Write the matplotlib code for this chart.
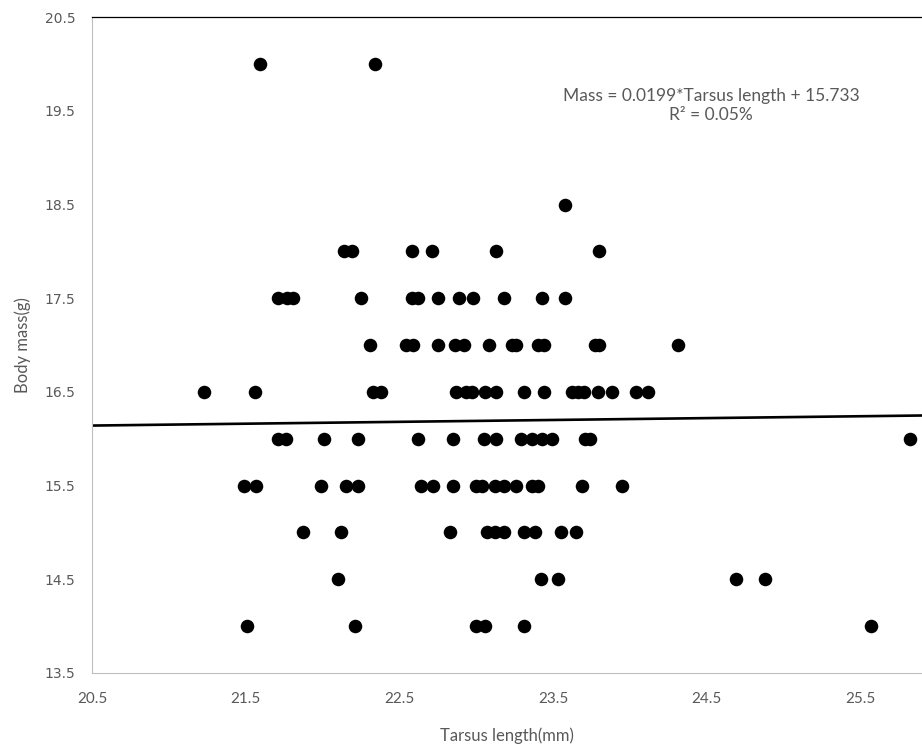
import matplotlib
matplotlib.use('Agg')
import matplotlib.pyplot as plt
import numpy as np

# body mass rows and the tarsus lengths of the birds in each row
mass_rows = [20.0, 18.5, 18.0, 17.5, 17.0, 16.5, 16.0, 15.5, 15.0, 14.5, 14.0]
tarsus_rows = [
	[21.59, 22.34],
	[23.58],
	[22.14, 22.19, 22.58, 22.71, 23.13, 23.80],
	[21.71, 21.77, 21.81, 22.25, 22.58, 22.62, 22.75, 22.89, 22.98, 23.18, 23.43, 23.58],
	[22.31, 22.54, 22.59, 22.75, 22.86, 22.92, 23.08, 23.23, 23.26, 23.40, 23.44, 23.77, 23.80, 24.31],
	[21.23, 21.56, 22.33, 22.38, 22.87, 22.93, 22.97, 23.06, 23.13, 23.31, 23.44, 23.62, 23.66, 23.70, 23.79, 23.88, 24.04, 24.12],
	[21.71, 21.76, 22.01, 22.23, 22.62, 22.85, 23.05, 23.13, 23.29, 23.36, 23.43, 23.49, 23.71, 23.74, 25.82],
	[21.49, 21.57, 21.99, 22.15, 22.23, 22.64, 22.72, 22.85, 23.00, 23.04, 23.12, 23.18, 23.26, 23.36, 23.40, 23.69, 23.95],
	[21.87, 22.12, 22.83, 23.07, 23.12, 23.18, 23.31, 23.38, 23.55, 23.65],
	[22.10, 23.42, 23.53, 24.69, 24.88],
	[21.51, 22.21, 23.00, 23.06, 23.31, 25.57],
]

# trendline from the chart label
slope = 0.0199
intercept = 15.733
r_squared = '0.05%'

x_ticks = [20.5, 21.5, 22.5, 23.5, 24.5, 25.5]
y_ticks = [13.5, 14.5, 15.5, 16.5, 17.5, 18.5, 19.5, 20.5]

tarsus = []
mass = []
for m, row in zip(mass_rows, tarsus_rows):
	tarsus.extend(row)
	mass.extend([m] * len(row))

grey = '#595959'

fig = plt.figure(figsize=(9.22, 7.48), dpi=100)
ax = fig.add_axes([0.0998, 0.1003, 0.9002, 0.8767])

ax.scatter(tarsus, mass, s=95, color='black', zorder=3, linewidths=0)

xlim = (20.5, 25.9)
line_x = np.array(xlim)
ax.plot(line_x, slope * line_x + intercept, color='black', linewidth=1.9, zorder=2)

ax.set_xlim(xlim)
ax.set_ylim(13.5, 20.5)
ax.set_xticks(x_ticks)
ax.set_yticks(y_ticks)
ax.set_xticklabels([str(t) for t in x_ticks], family='Lato', fontsize=11, color=grey)
ax.set_yticklabels([str(t) for t in y_ticks], family='DejaVu Sans', fontsize=10, color=grey)
ax.tick_params(length=0, pad=14)
ax.tick_params(axis='y', pad=12)

ax.spines['right'].set_visible(False)
ax.spines['left'].set_color('#bfbfbf')
ax.spines['bottom'].set_color('#bfbfbf')
ax.spines['top'].set_color('black')
ax.spines['top'].set_linewidth(0.9)

ax.set_xlabel('Tarsus length(mm)', family='Lato', fontsize=12, color=grey, labelpad=15)
ax.set_ylabel('Body mass(g)', family='Lato', fontsize=12, color=grey, labelpad=10)

ax.text(0.746, 0.865, 'Mass = 0.0199*Tarsus length + 15.733\nR\u00b2 = ' + r_squared,
	transform=ax.transAxes, ha='center', va='center', family='Lato',
	fontsize=12.5, color=grey, linespacing=1.2)

plt.savefig('out.png', dpi=100)
plt.close()
